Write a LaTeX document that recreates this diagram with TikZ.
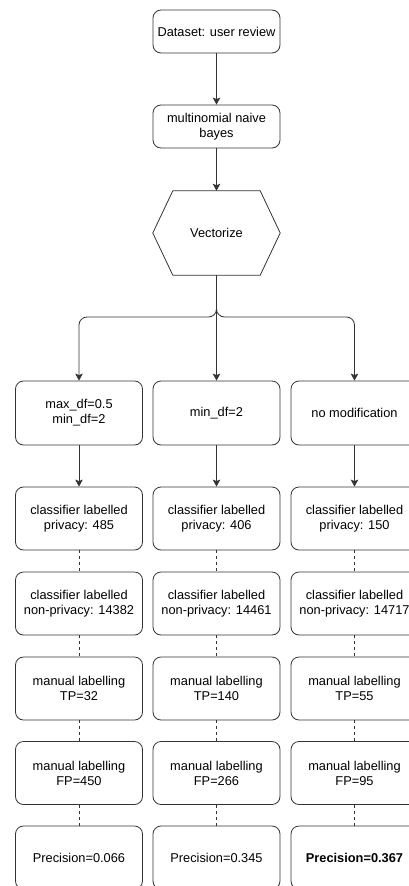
\documentclass[tikz,border=0pt]{standalone}
\usepackage{fontspec}
\setmainfont{Liberation Sans}
\usetikzlibrary{arrows.meta,calc}
\begin{document}
\begin{tikzpicture}[x=1pt,y=-1pt,
  box/.style={draw=black!80, line width=0.8pt, rounded corners=8pt, minimum width=127pt, minimum height=63pt, align=center, font=\fontsize{12.8}{15}\selectfont, inner sep=2pt},
  arr/.style={draw=black!80, line width=0.8pt, -{Stealth[length=7pt,width=7.5pt,inset=1.5pt]}},
  dsh/.style={draw=black!80, line width=0.8pt, dash pattern=on 3pt off 3pt}]
\useasboundingbox (0,0) rectangle (409,886);
\clip (0,0) rectangle (409,886);
\fill[white] (0,0) rectangle (409,886);

\node[box, minimum height=43pt] (D) at (216.5,31.5) {Dataset: user review};
\node[box, minimum height=43pt] (M) at (216.5,126.5) {multinomial naive\\bayes};
\node[minimum width=127pt, minimum height=84pt, inner sep=0pt, font=\fontsize{12.8}{15}\selectfont] (V) at (216.5,233) {Vectorize};
\draw[black!80, line width=0.8pt] (V.west) -- ($(V.north west)+(20,0)$) -- ($(V.north east)+(-20,0)$) -- (V.east) -- ($(V.south east)+(-20,0)$) -- ($(V.south west)+(20,0)$) -- cycle;

\draw[arr] (D) -- (M);
\draw[arr] (M) -- (V);

% column 1
\node[box, minimum height=64pt] (a1) at (79,413) {max\_df=0.5\\min\_df=2};
\node[box] (a2) at (79,518.5) {classifier labelled\\privacy: 485};
\node[box] (a3) at (79,603.5) {classifier labelled\\non-privacy: 14382};
\node[box] (a4) at (79,688.5) {manual labelling\\TP=32};
\node[box] (a5) at (79,773) {manual labelling\\FP=450};
\node[box] (a6) at (79,857.5) {Precision=0.066};
% column 2
\node[box, minimum height=64pt] (b1) at (216.5,413) {min\_df=2};
\node[box] (b2) at (216.5,518.5) {classifier labelled\\privacy: 406};
\node[box] (b3) at (216.5,603.5) {classifier labelled\\non-privacy: 14461};
\node[box] (b4) at (216.5,688.5) {manual labelling\\TP=140};
\node[box] (b5) at (216.5,773) {manual labelling\\FP=266};
\node[box] (b6) at (216.5,857.5) {Precision=0.345};
% column 3
\node[box, minimum height=64pt] (c1) at (354.5,413) {no modification};
\node[box] (c2) at (354.5,518.5) {classifier labelled\\privacy: 150};
\node[box] (c3) at (354.5,603.5) {classifier labelled\\non-privacy: 14717};
\node[box] (c4) at (354.5,688.5) {manual labelling\\TP=55};
\node[box] (c5) at (354.5,773) {manual labelling\\FP=95};
\node[box] (c6) at (354.5,857.5) {\bfseries Precision=0.367};

\coordinate (J) at (216.5,317);
\draw[arr, rounded corners=8pt] (V.south) -- (J) -| (a1.north);
\draw[arr, rounded corners=8pt] (V.south) -- (J) -| (c1.north);
\draw[arr] (V.south) -- (b1.north);

\foreach \c in {a,b,c}{
  \draw[arr] (\c1) -- (\c2);
  \draw[dsh] (\c2) -- (\c3);
  \draw[dsh] (\c3) -- (\c4);
  \draw[dsh] (\c4) -- (\c5);
  \draw[dsh] (\c5) -- (\c6);
}
\end{tikzpicture}
\end{document}
